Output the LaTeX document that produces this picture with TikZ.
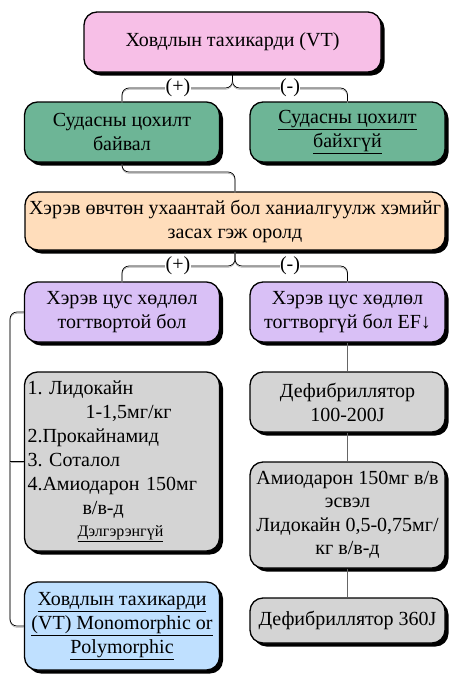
\documentclass[tikz,border=0pt]{standalone}
\usepackage{fontspec}
\setmainfont{Liberation Serif}
\usetikzlibrary{shadows}
\frenchspacing

\definecolor{vtpink}{HTML}{F7BFE7}
\definecolor{vtgreen}{HTML}{6DB596}
\definecolor{vtorange}{HTML}{FFDDBB}
\definecolor{vtpurple}{HTML}{D9C0F6}
\definecolor{vtgray}{HTML}{D4D4D4}
\definecolor{vtblue}{HTML}{BFE0FF}

\begin{document}
\begin{tikzpicture}[x=1pt,y=-1pt,
  box/.style={draw=black,line width=1.3pt,rounded corners=13pt,align=center,
    font=\fontsize{20}{24}\selectfont,inner sep=2pt,
    drop shadow={opacity=1,fill=black,shadow xshift=3.5pt,shadow yshift=-3.5pt}},
  conn/.style={draw=black,line width=0.7pt,rounded corners=7pt,
    preaction={draw=gray!60,line width=0.7pt,transform canvas={yshift=-1.3pt}}},
  rline/.style={draw=gray!80!black,line width=1.6pt},
  sign/.style={fill=white,inner sep=0.5pt,font=\fontsize{20}{22}\selectfont}]
\useasboundingbox[fill=white] (0,0) rectangle (457,683);

% Ховдлын тахикарди
\node[box,fill=vtpink,minimum width=297pt,minimum height=60pt] (top) at (232.5,42) {Ховдлын тахикарди (VT)};

% Судасны цохилт
\node[box,fill=vtgreen,minimum width=195pt,minimum height=60pt] (gl) at (122,132) {Судасны цохилт\\байвал};
\node[box,fill=vtgreen,minimum width=195pt,minimum height=60pt] (gr) at (347.5,132) {\underline{Судасны цохилт}\\\underline{байхгүй}};

\coordinate (j1) at (232.5,88);
\draw[conn] (top.south) -- (j1) -| (gl.north);
\draw[conn] (top.south) -- (j1) -| (gr.north);
\node[sign] (s1) at (178,88) {(+)};
\node[sign] (s2) at (290,88) {(-)};

% ханиалгуулж хэмийг засах
\node[box,fill=vtorange,minimum width=420pt,minimum height=58pt] (orng) at (235,221) {Хэрэв өвчтөн ухаантай бол ханиалгуулж хэмийг\\засах гэж оролд};

\coordinate (j2) at (122,172);
\draw[conn] (gl.south) -- (j2) -| (orng.north);

% цус хөдлөл
\node[box,fill=vtpurple,minimum width=195pt,minimum height=60pt] (pl) at (122,312) {Хэрэв цус хөдлөл\\тогтвортой бол};
\node[box,fill=vtpurple,minimum width=195pt,minimum height=60pt] (pr) at (347.5,312) {Хэрэв цус хөдлөл\\тогтворгүй бол EF↓};

\coordinate (j3) at (235,266);
\draw[conn] (orng.south) -- (j3) -| (pl.north);
\draw[conn] (orng.south) -- (j3) -| (pr.north);
\node[sign] (s3) at (178,266) {(+)};
\node[sign] (s4) at (290,266) {(-)};

% Тогтвортой: эм
\node[box,fill=vtgray,minimum width=195pt,minimum height=179pt,text width=189pt,align=left,inner xsep=3pt] (med) at (122,461.5) {1. Лидокайн\\
\hspace*{58pt}1-1,5мг/кг\\
2.Прокайнамид\\
3. Соталол\\
4.Амиодарон 150мг\\
\hspace*{55pt}в/в-д\\[-2pt]
\hspace*{50pt}{\fontsize{16}{18}\selectfont\underline{Дэлгэрэнгүй}}};

\node[box,fill=vtblue,minimum width=195pt,minimum height=88pt] (vt) at (122,626) {\underline{Ховдлын тахикарди}\\\underline{(VT) Monomorphic or}\\\underline{Polymorphic}};

\coordinate (bar) at (10,461.5);
\draw[conn] (pl.west) -| (bar) |- (vt.west);
\draw[conn] (bar) -- (med.west);

% Тогтворгүй: дефибриллятор
\node[box,fill=vtgray,minimum width=195pt,minimum height=60pt] (d1) at (347.5,402) {Дефибриллятор\\100-200J};
\node[box,fill=vtgray,minimum width=195pt,minimum height=106pt,font=\fontsize{20}{23.5}\selectfont] (am) at (347.5,515) {Амиодарон 150мг в/в\\эсвэл\\Лидокайн 0,5-0,75мг/\\кг в/в-д};
\node[box,fill=vtgray,minimum width=195pt,minimum height=45pt] (d2) at (347.5,620.5) {Дефибриллятор 360J};

\draw[rline] (pr.south) -- (d1.north);
\draw[rline] (d1.south) -- (am.north);
\draw[rline] (am.south) -- (d2.north);

\end{tikzpicture}
\end{document}
